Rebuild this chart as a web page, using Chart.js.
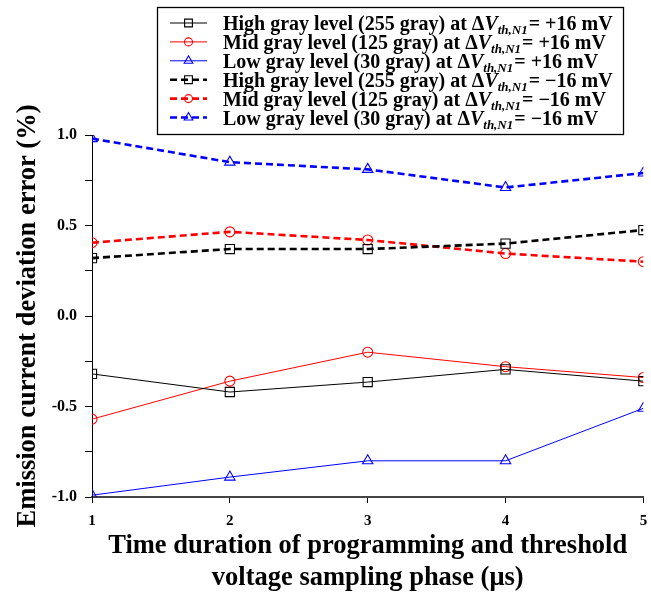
<!DOCTYPE html>
<html>
<head>
<meta charset="utf-8">
<script src="https://cdn.jsdelivr.net/npm/chart.js@4/dist/chart.umd.min.js"></script>
<style>
  body { margin: 0; background: #fff; }
  canvas { display: block; }
</style>
</head>
<body>
<canvas id="chart" width="651" height="594"></canvas>
<script>
// x = programming / Vth sampling time (us)
var times = [1, 2, 3, 4, 5];

// emission current deviation error (%), dVth,N1 = +16 mV
var highPos = [-0.32, -0.42, -0.365, -0.295, -0.36];
var midPos  = [-0.57, -0.36, -0.20, -0.28, -0.34];
var lowPos  = [-0.99, -0.89, -0.80, -0.80, -0.51];
// dVth,N1 = -16 mV
var highNeg = [0.32, 0.37, 0.37, 0.40, 0.475];
var midNeg  = [0.405, 0.465, 0.42, 0.345, 0.30];
var lowNeg  = [0.98, 0.85, 0.81, 0.71, 0.79];

var grayNames = ["High gray level (255 gray)", "Mid gray level (125 gray)", "Low gray level (30 gray)"];
var shifts = ["+16", "\u221216"];
var yTicks = [-1.0, -0.5, 0.0, 0.5, 1.0];

var SERIF = "'Liberation Serif', 'Times New Roman', serif";
var colors = ["#000000", "#ff0000", "#0000ff"];
var markers = ["rect", "circle", "triangle"];
var radii = [6.5, 5, 6];

function pts(vals) {
    return vals.map(function (v, i) { return {x: times[i], y: v}; });
}

function makeSet(vals, g, dashed) {
    return {
        data: pts(vals),
        borderColor: colors[g],
        borderWidth: dashed ? 2.6 : 1,
        borderDash: dashed ? [7, 4] : [],
        pointStyle: markers[g],
        pointRadius: radii[g],
        pointHoverRadius: radii[g],
        pointBorderColor: colors[g],
        pointBackgroundColor: "rgba(0,0,0,0)",
        pointBorderWidth: 1.1,
        fill: false,
        tension: 0,
        gray: g,
        shift: dashed ? 1 : 0
    };
}

var datasets = [
    makeSet(highPos, 0, false),
    makeSet(midPos, 1, false),
    makeSet(lowPos, 2, false),
    makeSet(highNeg, 0, true),
    makeSet(midNeg, 1, true),
    makeSet(lowNeg, 2, true)
];

// legend with italic subscript text, drawn by hand
var legendBox = {
    id: "legendBox",
    afterDraw: function (chart) {
        var ctx = chart.ctx;
        ctx.save();
        ctx.strokeStyle = "#000";
        ctx.lineWidth = 1.3;
        ctx.setLineDash([]);
        ctx.strokeRect(157.5, 7.5, 466, 127);

        chart.data.datasets.forEach(function (ds, i) {
            var y = 23 + i * 18.9;
            ctx.save();
            ctx.strokeStyle = ds.borderColor;
            ctx.lineWidth = ds.borderWidth;
            ctx.setLineDash(ds.borderDash);
            ctx.beginPath();
            ctx.moveTo(170, y);
            ctx.lineTo(207, y);
            ctx.stroke();
            ctx.setLineDash([]);
            ctx.strokeStyle = ds.pointBorderColor;
            ctx.fillStyle = ds.pointBackgroundColor;
            ctx.lineWidth = ds.pointBorderWidth;
            Chart.helpers.drawPoint(ctx, {pointStyle: ds.pointStyle, radius: ds.pointRadius - 1, rotation: 0, borderWidth: ds.pointBorderWidth}, 188.5, y);
            ctx.restore();

            var base = y + 7;
            var parts = [
                [grayNames[ds.gray] + " at \u0394", "bold 20px " + SERIF, 0, 0],
                ["V", "italic bold 20px " + SERIF, 0, 0],
                ["th,N1", "italic bold 13px " + SERIF, 4, 0],
                ["= " + shifts[ds.shift] + " mV", "bold 20px " + SERIF, 0, 1]
            ];
            var x = 223;
            ctx.fillStyle = "#000";
            ctx.textBaseline = "alphabetic";
            ctx.textAlign = "left";
            parts.forEach(function (p) {
                ctx.font = p[1];
                x += p[3];
                ctx.fillText(p[0], x, base + p[2]);
                x += ctx.measureText(p[0]).width;
            });
        });
        ctx.restore();
    }
};

new Chart(document.getElementById("chart"), {
    type: "line",
    data: {datasets: datasets},
    plugins: [legendBox],
    options: {
        responsive: false,
        animation: false,
        layout: {padding: {left: 0, right: 6, top: 135, bottom: 0}},
        plugins: {
            legend: {display: false},
            tooltip: {enabled: false}
        },
        scales: {
            x: {
                type: "linear",
                min: 1,
                max: 5,
                afterFit: function (s) {
                    s.height = 97;
                    s.paddingLeft = 0;
                    s.paddingRight = 0;
                },
                grid: {display: true, drawOnChartArea: false, drawTicks: true, tickLength: 6, color: "#000"},
                border: {display: true, color: "#444", width: 2},
                ticks: {
                    stepSize: 1,
                    padding: 9,
                    color: "#000",
                    font: {family: SERIF, size: 15, weight: "bold"}
                },
                title: {
                    display: true,
                    text: ["Time duration of programming and threshold", "voltage sampling phase (\u03bcs)"],
                    color: "#000",
                    font: {family: SERIF, size: 26.5, weight: "bold", lineHeight: 1.21},
                    padding: {top: 0, bottom: 0}
                }
            },
            y: {
                min: -1,
                max: 1,
                afterFit: function (s) { s.width = 92; },
                grid: {display: true, drawOnChartArea: false, drawTicks: true, tickLength: 7, color: "#000"},
                border: {display: true, color: "#000", width: 1},
                ticks: {
                    stepSize: 0.25,
                    padding: 8,
                    color: "#000",
                    font: {family: SERIF, size: 16, weight: "bold"},
                    callback: function (v) {
                        for (var i = 0; i < yTicks.length; i++) {
                            if (Math.abs(v - yTicks[i]) < 1e-9) return yTicks[i].toFixed(1);
                        }
                        return "";
                    }
                },
                title: {
                    display: true,
                    text: "Emission current deviation error (%)",
                    color: "#000",
                    font: {family: SERIF, size: 26.5, weight: "bold", lineHeight: 1.2},
                    padding: {top: 12, bottom: 0}
                }
            }
        }
    }
});
</script>
</body>
</html>
